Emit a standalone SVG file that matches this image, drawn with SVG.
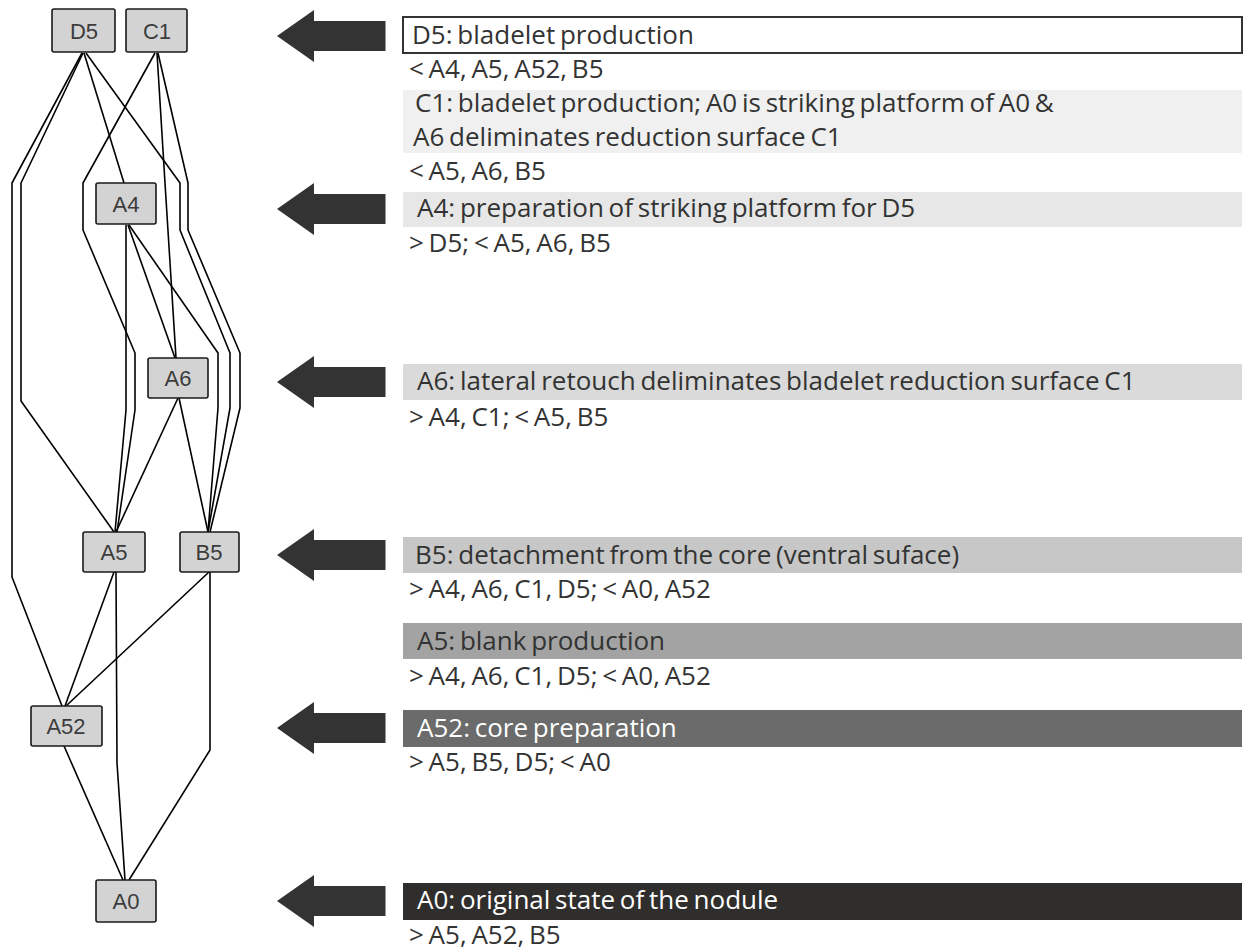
<svg xmlns="http://www.w3.org/2000/svg" width="1244" height="950" viewBox="0 0 1244 950">
<style>
.node rect{fill:#d3d3d3;stroke:#1a1a1a;stroke-width:1.6}
.node text{font-family:"Liberation Sans",Arial,sans-serif;font-size:22px;fill:#3c3c3c;text-anchor:middle}
.edges polyline{fill:none;stroke:#000;stroke-width:1.6;stroke-linejoin:round}
.arrow{fill:#333}
.t{font-family:"Open Sans",sans-serif;font-size:26px;word-spacing:-2px;fill:#333}
.w{fill:#fff}
</style>
<defs>
<path id="arr" d="M277,0 L314,-26 L314,-15 L385.5,-15 L385.5,15 L314,15 L314,26 Z"/>
</defs>
<rect width="1244" height="950" fill="#fff"/>
<g class="edges" id="connectors">
<polyline points="84,53 124,183"/>
<polyline points="82,53 12,183 12,577 62,706"/>
<polyline points="83,53 21,183 21,401 114,532"/>
<polyline points="86,53 180,183 180,230 230,353 230,408 208,532"/>
<polyline points="155,53 83,183 83,230 135,353 135,410 117,532"/>
<polyline points="157,53 165,183 176,358"/>
<polyline points="158,53 188,183 188,230 240,353 240,408 210,532"/>
<polyline points="126,225 126,410 115,532"/>
<polyline points="128,225 175,358"/>
<polyline points="129,225 218,353 218,408 208,532"/>
<polyline points="178,398 116,532"/>
<polyline points="179,398 208,532"/>
<polyline points="114,572 65,706"/>
<polyline points="116,572 117,763 125,880"/>
<polyline points="209,572 66,706"/>
<polyline points="210,572 210,750 129,880"/>
<polyline points="64,746 123,880"/>
</g>
<g class="node" id="node-D5"><rect x="52" y="9" width="63" height="43" rx="2"/><text x="84" y="39">D5</text></g>
<g class="node" id="node-C1"><rect x="126" y="9" width="61" height="43" rx="2"/><text x="157" y="39">C1</text></g>
<g class="node" id="node-A4"><rect x="96" y="183" width="60" height="41" rx="2"/><text x="126" y="212">A4</text></g>
<g class="node" id="node-A6"><rect x="148" y="358" width="60" height="40" rx="2"/><text x="178" y="386">A6</text></g>
<g class="node" id="node-A5"><rect x="83" y="532" width="62" height="40" rx="2"/><text x="114" y="560">A5</text></g>
<g class="node" id="node-B5"><rect x="180" y="532" width="59" height="40" rx="2"/><text x="209" y="560">B5</text></g>
<g class="node" id="node-A52"><rect x="31" y="706" width="71" height="40" rx="2"/><text x="66" y="734">A52</text></g>
<g class="node" id="node-A0"><rect x="96" y="880" width="60" height="42" rx="2"/><text x="126" y="909">A0</text></g>

<g id="row-D5">
<use href="#arr" class="arrow" y="36"/>
<rect x="403" y="17" width="839" height="36" fill="#fff" stroke="#333" stroke-width="2"/>
<text class="t" x="412" y="44">D5: bladelet production</text>
<text class="t" x="409" y="78">&lt; A4, A5, A52, B5</text>
</g>
<g id="row-C1">
<rect x="403" y="90" width="839" height="63" fill="#eff0ef"/>
<text class="t" x="415" y="112">C1: bladelet production; A0 is striking platform of A0 &amp;</text>
<text class="t" x="413" y="146">A6 deliminates reduction surface C1</text>
<text class="t" x="409" y="180">&lt; A5, A6, B5</text>
</g>
<g id="row-A4">
<use href="#arr" class="arrow" y="209"/>
<rect x="403" y="192" width="839" height="35" fill="#e6e7e6"/>
<text class="t" x="417" y="217">A4: preparation of striking platform for D5</text>
<text class="t" x="409" y="252">&gt; D5; &lt; A5, A6, B5</text>
</g>
<g id="row-A6">
<use href="#arr" class="arrow" y="382"/>
<rect x="403" y="364" width="839" height="36" fill="#d9dad9"/>
<text class="t" x="417" y="390">A6: lateral retouch deliminates bladelet reduction surface C1</text>
<text class="t" x="409" y="426">&gt; A4, C1; &lt; A5, B5</text>
</g>
<g id="row-B5">
<use href="#arr" class="arrow" y="555"/>
<rect x="403" y="537" width="839" height="36" fill="#c6c7c6"/>
<text class="t" x="415" y="564">B5: detachment from the core (ventral suface)</text>
<text class="t" x="409" y="598">&gt; A4, A6, C1, D5; &lt; A0, A52</text>
</g>
<g id="row-A5">
<rect x="403" y="623" width="839" height="36" fill="#a2a3a2"/>
<text class="t" x="417" y="650">A5: blank production</text>
<text class="t" x="409" y="685">&gt; A4, A6, C1, D5; &lt; A0, A52</text>
</g>
<g id="row-A52">
<use href="#arr" class="arrow" y="728"/>
<rect x="403" y="710" width="839" height="37" fill="#6a6b6a"/>
<text class="t w" x="417" y="737">A52: core preparation</text>
<text class="t" x="409" y="771">&gt; A5, B5, D5; &lt; A0</text>
</g>
<g id="row-A0">
<use href="#arr" class="arrow" y="901"/>
<rect x="403" y="883" width="839" height="37" fill="#2f2e2d"/>
<text class="t w" x="417" y="909">A0: original state of the nodule</text>
<text class="t" x="409" y="944">&gt; A5, A52, B5</text>
</g>
</svg>
